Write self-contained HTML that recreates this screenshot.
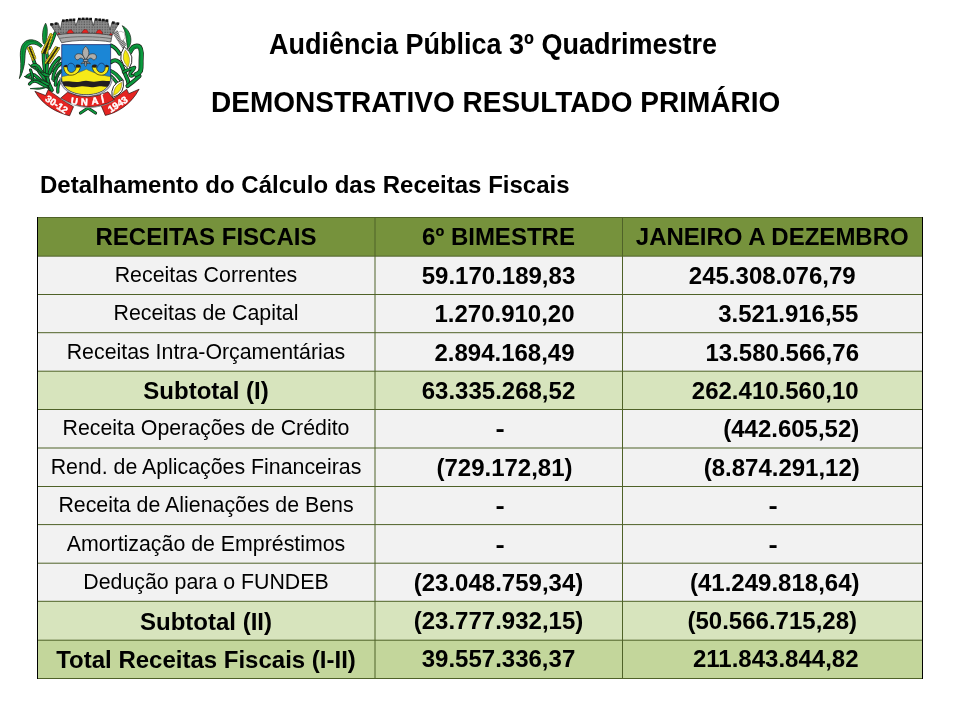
<!DOCTYPE html>
<html><head><meta charset="utf-8"><title>Demonstrativo Resultado Primário</title>
<style>
html,body{margin:0;padding:0;background:#fff;}
body{width:960px;height:720px;position:relative;overflow:hidden;-webkit-font-smoothing:antialiased;font-family:"Liberation Sans",Arial,sans-serif;color:#000;}
.a{position:absolute;white-space:nowrap;}
.tx{will-change:transform;}
.t1{font-weight:bold;}
.cell{position:absolute;white-space:nowrap;text-align:center;}
.lab{font-size:21.33px;}
.num{font-weight:bold;font-size:24px;}
.bl{font-weight:bold;font-size:24px;}
.hd{font-weight:bold;font-size:24px;}
</style></head><body>

<div class="a t1 tx" style="left:269px;top:28px;font-size:27px;transform:scaleY(1.075);transform-origin:0 0;">Audiência Pública 3º Quadrimestre</div>
<div class="a t1 tx" style="left:211px;top:86px;font-size:28px;transform:scaleY(1.04);transform-origin:0 0;">DEMONSTRATIVO RESULTADO PRIMÁRIO</div>
<div class="a t1 tx" style="left:40px;top:171px;font-size:24px;transform:scaleY(1.0);transform-origin:0 0;">Detalhamento do Cálculo das Receitas Fiscais</div>
<div class="a" style="left:37px;top:217px;width:885.5px;height:40px;background:#76923C"></div>
<div class="a" style="left:37px;top:256px;width:885.5px;height:38px;background:#F2F2F2"></div>
<div class="a" style="left:37px;top:294px;width:885.5px;height:39px;background:#F2F2F2"></div>
<div class="a" style="left:37px;top:333px;width:885.5px;height:38px;background:#F2F2F2"></div>
<div class="a" style="left:37px;top:371px;width:885.5px;height:39px;background:#D7E4BD"></div>
<div class="a" style="left:37px;top:410px;width:885.5px;height:38px;background:#F2F2F2"></div>
<div class="a" style="left:37px;top:448px;width:885.5px;height:38px;background:#F2F2F2"></div>
<div class="a" style="left:37px;top:486px;width:885.5px;height:39px;background:#F2F2F2"></div>
<div class="a" style="left:37px;top:525px;width:885.5px;height:38px;background:#F2F2F2"></div>
<div class="a" style="left:37px;top:563px;width:885.5px;height:38px;background:#F2F2F2"></div>
<div class="a" style="left:37px;top:601px;width:885.5px;height:39px;background:#D7E4BD"></div>
<div class="a" style="left:37px;top:640px;width:885.5px;height:38px;background:#C3D69B"></div>
<svg class="a" style="left:0;top:0" width="960" height="720" viewBox="0 0 960 720"><line x1="37" y1="294.50" x2="922" y2="294.50" stroke="#4F6228" stroke-width="1"/><line x1="37" y1="332.70" x2="922" y2="332.70" stroke="#4F6228" stroke-width="1"/><line x1="37" y1="371.20" x2="922" y2="371.20" stroke="#4F6228" stroke-width="1"/><line x1="37" y1="409.50" x2="922" y2="409.50" stroke="#4F6228" stroke-width="1"/><line x1="37" y1="448.00" x2="922" y2="448.00" stroke="#4F6228" stroke-width="1"/><line x1="37" y1="486.50" x2="922" y2="486.50" stroke="#4F6228" stroke-width="1"/><line x1="37" y1="524.60" x2="922" y2="524.60" stroke="#4F6228" stroke-width="1"/><line x1="37" y1="563.20" x2="922" y2="563.20" stroke="#4F6228" stroke-width="1"/><line x1="37" y1="601.30" x2="922" y2="601.30" stroke="#4F6228" stroke-width="1"/><line x1="37" y1="640.20" x2="922" y2="640.20" stroke="#4F6228" stroke-width="1"/><line x1="37" y1="678.50" x2="922" y2="678.50" stroke="#4F6228" stroke-width="1"/><line x1="37" y1="217.5" x2="923" y2="217.5" stroke="#4F6228" stroke-width="1"/><line x1="37" y1="256.2" x2="922" y2="256.2" stroke="#4F6228" stroke-width="1"/><line x1="375" y1="218" x2="375" y2="678.50" stroke="#4F6228" stroke-width="1"/><line x1="622.5" y1="218" x2="622.5" y2="678.50" stroke="#4F6228" stroke-width="1"/><line x1="37.5" y1="217" x2="37.5" y2="679.00" stroke="#000" stroke-width="1"/><line x1="922.5" y1="217" x2="922.5" y2="679.00" stroke="#000" stroke-width="1"/></svg>
<div class="cell tx hd" style="left:37px;top:217px;width:338px;height:39px;line-height:39px;padding-left:0px;">RECEITAS FISCAIS</div>
<div class="cell tx hd" style="left:375px;top:217px;width:247px;height:39px;line-height:39px;padding-left:0px;">6º BIMESTRE</div>
<div class="cell tx hd" style="left:622px;top:217px;width:300.5px;height:39px;line-height:39px;padding-left:0px;">JANEIRO A DEZEMBRO</div>
<div class="cell tx lab" style="left:37px;top:256.2px;width:338px;height:38.30000000000001px;line-height:38.30000000000001px;padding-left:0px;">Receitas Correntes</div>
<div class="cell tx num" style="left:375px;top:257.2px;width:247px;height:38.30000000000001px;line-height:38.30000000000001px;padding-left:0px;">59.170.189,83</div>
<div class="cell tx num" style="left:622px;top:257.2px;width:300.5px;height:38.30000000000001px;line-height:38.30000000000001px;padding-left:0px;">245.308.076,79</div>
<div class="cell tx lab" style="left:37px;top:294.0px;width:338px;height:38.19999999999999px;line-height:38.19999999999999px;padding-left:0px;">Receitas de Capital</div>
<div class="cell tx num" style="left:375px;top:295.0px;width:247px;height:38.19999999999999px;line-height:38.19999999999999px;padding-left:6px;">1.270.910,20</div>
<div class="cell tx num" style="left:622px;top:295.0px;width:300.5px;height:38.19999999999999px;line-height:38.19999999999999px;padding-left:16px;">3.521.916,55</div>
<div class="cell tx lab" style="left:37px;top:332.7px;width:338px;height:38.5px;line-height:38.5px;padding-left:0px;">Receitas Intra-Orçamentárias</div>
<div class="cell tx num" style="left:375px;top:333.7px;width:247px;height:38.5px;line-height:38.5px;padding-left:6px;">2.894.168,49</div>
<div class="cell tx num" style="left:622px;top:333.7px;width:300.5px;height:38.5px;line-height:38.5px;padding-left:10px;">13.580.566,76</div>
<div class="cell tx bl" style="left:37px;top:372.0px;width:338px;height:38.30000000000001px;line-height:38.30000000000001px;padding-left:0px;">Subtotal (I)</div>
<div class="cell tx num" style="left:375px;top:371.5px;width:247px;height:38.30000000000001px;line-height:38.30000000000001px;padding-left:0px;">63.335.268,52</div>
<div class="cell tx num" style="left:622px;top:371.5px;width:300.5px;height:38.30000000000001px;line-height:38.30000000000001px;padding-left:3px;">262.410.560,10</div>
<div class="cell tx lab" style="left:37px;top:408.5px;width:338px;height:38.5px;line-height:38.5px;padding-left:0px;">Receita Operações de Crédito</div>
<div class="cell tx num" style="left:375px;top:409.5px;width:247px;height:38.5px;line-height:38.5px;padding-left:1px;"><span style="display:inline-block;transform:scaleX(1.15)">-</span></div>
<div class="cell tx num" style="left:622px;top:409.5px;width:300.5px;height:38.5px;line-height:38.5px;padding-left:19px;">(442.605,52)</div>
<div class="cell tx lab" style="left:37px;top:448.0px;width:338px;height:38.5px;line-height:38.5px;padding-left:0px;">Rend. de Aplicações Financeiras</div>
<div class="cell tx num" style="left:375px;top:449.0px;width:247px;height:38.5px;line-height:38.5px;padding-left:6px;">(729.172,81)</div>
<div class="cell tx num" style="left:622px;top:449.0px;width:300.5px;height:38.5px;line-height:38.5px;padding-left:9.5px;">(8.874.291,12)</div>
<div class="cell tx lab" style="left:37px;top:485.5px;width:338px;height:38.10000000000002px;line-height:38.10000000000002px;padding-left:0px;">Receita de Alienações de Bens</div>
<div class="cell tx num" style="left:375px;top:486.5px;width:247px;height:38.10000000000002px;line-height:38.10000000000002px;padding-left:1px;"><span style="display:inline-block;transform:scaleX(1.15)">-</span></div>
<div class="cell tx num" style="left:622px;top:486.5px;width:300.5px;height:38.10000000000002px;line-height:38.10000000000002px;padding-left:0.5px;"><span style="display:inline-block;transform:scaleX(1.15)">-</span></div>
<div class="cell tx lab" style="left:37px;top:524.6px;width:338px;height:38.60000000000002px;line-height:38.60000000000002px;padding-left:0px;">Amortização de Empréstimos</div>
<div class="cell tx num" style="left:375px;top:525.6px;width:247px;height:38.60000000000002px;line-height:38.60000000000002px;padding-left:1px;"><span style="display:inline-block;transform:scaleX(1.15)">-</span></div>
<div class="cell tx num" style="left:622px;top:525.6px;width:300.5px;height:38.60000000000002px;line-height:38.60000000000002px;padding-left:0.5px;"><span style="display:inline-block;transform:scaleX(1.15)">-</span></div>
<div class="cell tx lab" style="left:37px;top:563.2px;width:338px;height:38.09999999999991px;line-height:38.09999999999991px;padding-left:0px;">Dedução para o FUNDEB</div>
<div class="cell tx num" style="left:375px;top:564.2px;width:247px;height:38.09999999999991px;line-height:38.09999999999991px;padding-left:0px;">(23.048.759,34)</div>
<div class="cell tx num" style="left:622px;top:564.2px;width:300.5px;height:38.09999999999991px;line-height:38.09999999999991px;padding-left:2.5px;">(41.249.818,64)</div>
<div class="cell tx bl" style="left:37px;top:602.8px;width:338px;height:38.90000000000009px;line-height:38.90000000000009px;padding-left:0px;">Subtotal (II)</div>
<div class="cell tx num" style="left:375px;top:602.3px;width:247px;height:38.90000000000009px;line-height:38.90000000000009px;padding-left:0px;">(23.777.932,15)</div>
<div class="cell tx num" style="left:622px;top:602.3px;width:300.5px;height:38.90000000000009px;line-height:38.90000000000009px;padding-left:0px;">(50.566.715,28)</div>
<div class="cell tx bl" style="left:37px;top:640.9000000000001px;width:338px;height:38.299999999999955px;line-height:38.299999999999955px;padding-left:0px;">Total Receitas Fiscais (I-II)</div>
<div class="cell tx num" style="left:375px;top:640.4000000000001px;width:247px;height:38.299999999999955px;line-height:38.299999999999955px;padding-left:0px;">39.557.336,37</div>
<div class="cell tx num" style="left:622px;top:640.4000000000001px;width:300.5px;height:38.299999999999955px;line-height:38.299999999999955px;padding-left:3.5px;">211.843.844,82</div>
<svg class="a tx" style="left:0;top:0" width="160" height="130" viewBox="0 0 160 130">
<defs>
<pattern id="mas" width="2.6" height="2.6" patternUnits="userSpaceOnUse">
<rect width="2.6" height="2.6" fill="#8a8a8a"/><rect x="0.5" y="0.5" width="1.2" height="1.2" fill="#4e4e4e"/>
</pattern>
<pattern id="hat" width="1.6" height="1.6" patternUnits="userSpaceOnUse" patternTransform="rotate(-35)">
<rect width="1.6" height="1.6" fill="#c4c4c4"/><rect width="1.6" height="0.75" fill="#555"/>
</pattern>
<clipPath id="shc"><path d="M61.7,44.6 H110.6 V78 C110.6,89 99.5,94.7 86.15,94.7 C72.8,94.7 61.7,89 61.7,78 Z"/></clipPath>
</defs>
<path d="M111,62 C115,59 119,60.5 121.5,65 C123.5,69 124.5,73 126,76 C127.5,79 128.5,81 128.5,84" fill="none" stroke="#1a2218" stroke-width="4.10" stroke-linecap="round" stroke-linejoin="round"/><path d="M111,62 C115,59 119,60.5 121.5,65 C123.5,69 124.5,73 126,76 C127.5,79 128.5,81 128.5,84" fill="none" stroke="#0b9a3e" stroke-width="2.60" stroke-linecap="round" stroke-linejoin="round"/>
<path d="M110.8,71 C114,72 118,76 121.5,80.5" fill="none" stroke="#1a2218" stroke-width="3.90" stroke-linecap="round" stroke-linejoin="round"/><path d="M110.8,71 C114,72 118,76 121.5,80.5" fill="none" stroke="#0b9a3e" stroke-width="2.40" stroke-linecap="round" stroke-linejoin="round"/>
<path d="M110.8,76 C113,78 115,80 117,83" fill="none" stroke="#1a2218" stroke-width="3.30" stroke-linecap="round" stroke-linejoin="round"/><path d="M110.8,76 C113,78 115,80 117,83" fill="none" stroke="#0b9a3e" stroke-width="1.80" stroke-linecap="round" stroke-linejoin="round"/>
<path d="M123.5,72 C127,70 131,68.5 134.5,67.5 C134,70 131.5,71 130,73.5 C129.5,75.5 131,76.5 132.5,75.5" fill="none" stroke="#1a2218" stroke-width="3.50" stroke-linecap="round" stroke-linejoin="round"/><path d="M123.5,72 C127,70 131,68.5 134.5,67.5 C134,70 131.5,71 130,73.5 C129.5,75.5 131,76.5 132.5,75.5" fill="none" stroke="#0b9a3e" stroke-width="2.00" stroke-linecap="round" stroke-linejoin="round"/>
<path d="M127.5,86 C131,83.5 135.5,80 139.5,76" fill="none" stroke="#1a2218" stroke-width="4.10" stroke-linecap="round" stroke-linejoin="round"/><path d="M127.5,86 C131,83.5 135.5,80 139.5,76" fill="none" stroke="#0b9a3e" stroke-width="2.60" stroke-linecap="round" stroke-linejoin="round"/>
<path d="M130,52 C132,47.5 135,45.6 138.3,46.2 C141.2,47.2 141.6,52.5 141.2,58 C140.8,63 141.6,67.5 140.5,71 C139.5,73 137.5,74 136,74.5" fill="none" stroke="#1a2218" stroke-width="5.00" stroke-linecap="round" stroke-linejoin="round"/><path d="M130,52 C132,47.5 135,45.6 138.3,46.2 C141.2,47.2 141.6,52.5 141.2,58 C140.8,63 141.6,67.5 140.5,71 C139.5,73 137.5,74 136,74.5" fill="none" stroke="#0b9a3e" stroke-width="3.60" stroke-linecap="round" stroke-linejoin="round"/>
<path d="M131,50.5 C133,47.5 135.5,46.6 138,47.2 C140.2,48.2 140.4,53 140,58 C139.7,63 140.4,67 139.5,70.5" fill="none" stroke="#07702c" stroke-width="0.9"/>
<path d="M111.2,45.5 C114.5,47 117.5,50 119.6,53.8" fill="none" stroke="#1a2218" stroke-width="3.90" stroke-linecap="round" stroke-linejoin="round"/><path d="M111.2,45.5 C114.5,47 117.5,50 119.6,53.8" fill="none" stroke="#0b9a3e" stroke-width="2.40" stroke-linecap="round" stroke-linejoin="round"/>
<path d="M122.2,25.7 C127,28 130.6,33 130.9,39.5 C131.1,43.5 129.8,46.6 127.6,49 C127,45 126.6,40.5 125.8,36 C125.1,31.5 124,28.5 122.2,25.7 Z" fill="#0b9a3e" stroke="#1a2218" stroke-width="0.7"/>
<path d="M123.5,28 C127,32 129,38 127.5,47" fill="none" stroke="#07702c" stroke-width="0.6"/>
<path d="M113.2,33.6 L117.2,30.6 L126.2,44.8 L122.8,48.2 Z" fill="url(#hat)" stroke="#555" stroke-width="0.5"/>
<path d="M118.3,32.8 C119.5,30.8 122,30.9 122.8,32.3 C124.2,32 125.3,33.6 124.6,35 C125.6,36.2 125.2,38.5 123.8,39.2 C123.8,40.6 121.6,41 120.8,39.6 Z" fill="#fff" stroke="#8c8c8c" stroke-width="0.55"/>
<path d="M124.20,46.80 Q115.24,60.31 128.80,69.20 Q137.18,55.81 124.20,46.80 Z" fill="#fff" stroke="#2a2a2a" stroke-width="1.0"/>
<path d="M125.30,49.80 Q120.09,59.48 128.10,67.00 Q131.93,57.55 125.30,49.80 Z" fill="#f5ea10" stroke="#5a5010" stroke-width="0.45"/>
<path d="M126.6,51 C127.3,56 127.6,61 127.1,66" fill="none" stroke="#d8c818" stroke-width="0.5"/>
<path d="M123.00,79.80 Q109.65,83.88 112.20,97.60 Q126.06,93.84 123.00,79.80 Z" fill="#fff" stroke="#2a2a2a" stroke-width="1.0"/>
<path d="M121.70,82.20 Q113.44,86.21 113.50,95.40 Q122.61,91.91 121.70,82.20 Z" fill="#f5ea10" stroke="#5a5010" stroke-width="0.45"/>
<path d="M42.5,45.8 C38.5,40.2 30.5,38.2 25.6,41.3 C21,44.3 19.9,51 20.5,58 C21.1,66 21,72 19.4,78.6 C22.8,72.5 24.6,65.5 24.9,58.2 C25.1,52 25.6,47.6 28.6,45.4 C32.2,43 37.2,44 40.6,47.6 Z" fill="#0b9a3e" stroke="#1a2218" stroke-width="0.8"/>
<path d="M41.5,46.5 C37.5,41.6 30.5,40.2 27,42.6 C23,45.3 22.4,51 22.7,58 C23,65 22.6,71 20.6,76.5" fill="none" stroke="#07702c" stroke-width="0.9"/>
<path d="M33.5,60 C35,66 39,72 44,78 C46.5,81 48.5,85 50,89" fill="none" stroke="#1a2218" stroke-width="3.70" stroke-linecap="round" stroke-linejoin="round"/><path d="M33.5,60 C35,66 39,72 44,78 C46.5,81 48.5,85 50,89" fill="none" stroke="#0b9a3e" stroke-width="2.20" stroke-linecap="round" stroke-linejoin="round"/>
<path d="M43.5,53 C43.5,62 44.5,72 47.5,80 C49,84 50.5,87 52,90" fill="none" stroke="#1a2218" stroke-width="3.70" stroke-linecap="round" stroke-linejoin="round"/><path d="M43.5,53 C43.5,62 44.5,72 47.5,80 C49,84 50.5,87 52,90" fill="none" stroke="#0b9a3e" stroke-width="2.20" stroke-linecap="round" stroke-linejoin="round"/>
<path d="M47.5,62 C46.5,68 46.5,75 48.5,82" fill="none" stroke="#1a2218" stroke-width="3.50" stroke-linecap="round" stroke-linejoin="round"/><path d="M47.5,62 C46.5,68 46.5,75 48.5,82" fill="none" stroke="#0b9a3e" stroke-width="2.00" stroke-linecap="round" stroke-linejoin="round"/>
<path d="M59,58 C54.5,62 51,67 49.5,73" fill="none" stroke="#1a2218" stroke-width="3.70" stroke-linecap="round" stroke-linejoin="round"/><path d="M59,58 C54.5,62 51,67 49.5,73" fill="none" stroke="#0b9a3e" stroke-width="2.20" stroke-linecap="round" stroke-linejoin="round"/>
<path d="M61,63.5 C56,67 53.5,72 53,79" fill="none" stroke="#1a2218" stroke-width="3.50" stroke-linecap="round" stroke-linejoin="round"/><path d="M61,63.5 C56,67 53.5,72 53,79" fill="none" stroke="#0b9a3e" stroke-width="2.00" stroke-linecap="round" stroke-linejoin="round"/>
<path d="M61,71 C57.5,74 55.5,79 55.5,85" fill="none" stroke="#1a2218" stroke-width="3.50" stroke-linecap="round" stroke-linejoin="round"/><path d="M61,71 C57.5,74 55.5,79 55.5,85" fill="none" stroke="#0b9a3e" stroke-width="2.00" stroke-linecap="round" stroke-linejoin="round"/>
<path d="M61,80 C58.5,83 57.5,87 57.8,92" fill="none" stroke="#1a2218" stroke-width="3.30" stroke-linecap="round" stroke-linejoin="round"/><path d="M61,80 C58.5,83 57.5,87 57.8,92" fill="none" stroke="#0b9a3e" stroke-width="1.80" stroke-linecap="round" stroke-linejoin="round"/>
<path d="M32,66 C35,63.5 38.5,65.5 40,69 C41.5,72.5 44.5,75 48,75.5" fill="none" stroke="#1a2218" stroke-width="3.50" stroke-linecap="round" stroke-linejoin="round"/><path d="M32,66 C35,63.5 38.5,65.5 40,69 C41.5,72.5 44.5,75 48,75.5" fill="none" stroke="#0b9a3e" stroke-width="2.00" stroke-linecap="round" stroke-linejoin="round"/>
<path d="M27,76.5 C30,73.5 34,74 37,77 C40,80 44,83 48,84.5" fill="none" stroke="#1a2218" stroke-width="3.50" stroke-linecap="round" stroke-linejoin="round"/><path d="M27,76.5 C30,73.5 34,74 37,77 C40,80 44,83 48,84.5" fill="none" stroke="#0b9a3e" stroke-width="2.00" stroke-linecap="round" stroke-linejoin="round"/>
<path d="M29.5,84 C32,81 35,80.5 38,82 C41,83.5 44,86 47.5,87" fill="none" stroke="#1a2218" stroke-width="3.30" stroke-linecap="round" stroke-linejoin="round"/><path d="M29.5,84 C32,81 35,80.5 38,82 C41,83.5 44,86 47.5,87" fill="none" stroke="#0b9a3e" stroke-width="1.80" stroke-linecap="round" stroke-linejoin="round"/>
<path d="M30.5,70 C32,73 33,76 32.5,80" fill="none" stroke="#1a2218" stroke-width="3.10" stroke-linecap="round" stroke-linejoin="round"/><path d="M30.5,70 C32,73 33,76 32.5,80" fill="none" stroke="#0b9a3e" stroke-width="1.60" stroke-linecap="round" stroke-linejoin="round"/>
<path d="M55.2,33 C53.5,38 51.5,43 49,48" fill="none" stroke="#1a2218" stroke-width="3.50" stroke-linecap="round" stroke-linejoin="round"/><path d="M55.2,33 C53.5,38 51.5,43 49,48" fill="none" stroke="#0b9a3e" stroke-width="2.00" stroke-linecap="round" stroke-linejoin="round"/>
<path d="M46,46 C46.5,50 47,54 47.5,58" fill="none" stroke="#1a2218" stroke-width="3.10" stroke-linecap="round" stroke-linejoin="round"/><path d="M46,46 C46.5,50 47,54 47.5,58" fill="none" stroke="#0b9a3e" stroke-width="1.60" stroke-linecap="round" stroke-linejoin="round"/>
<path d="M46.50,80.50 Q35.24,79.04 24.20,76.40 Q34.66,82.19 46.50,80.50 Z" fill="#0b9a3e" stroke="#1a2218" stroke-width="0.7"/><path d="M46.50,80.50 Q35.02,80.22 24.20,76.40" fill="none" stroke="#07702c" stroke-width="0.40"/>
<path d="M48.50,87.00 Q39.37,88.00 30.20,88.60 Q39.61,90.79 48.50,87.00 Z" fill="#0b9a3e" stroke="#1a2218" stroke-width="0.7"/><path d="M48.50,87.00 Q39.46,89.05 30.20,88.60" fill="none" stroke="#07702c" stroke-width="0.40"/>
<path d="M44.00,73.00 Q36.05,69.03 28.60,64.20 Q34.76,71.29 44.00,73.00 Z" fill="#0b9a3e" stroke="#1a2218" stroke-width="0.7"/><path d="M44.00,73.00 Q35.57,69.88 28.60,64.20" fill="none" stroke="#07702c" stroke-width="0.40"/>
<path d="M49.50,75.00 Q57.13,67.59 61.30,57.80 Q54.99,66.12 49.50,75.00 Z" fill="#0b9a3e" stroke="#1a2218" stroke-width="0.7"/><path d="M49.50,75.00 Q56.33,67.04 61.30,57.80" fill="none" stroke="#07702c" stroke-width="0.40"/>
<path d="M53.00,82.00 Q58.64,76.91 61.30,69.80 Q56.65,75.56 53.00,82.00 Z" fill="#0b9a3e" stroke="#1a2218" stroke-width="0.7"/><path d="M53.00,82.00 Q57.89,76.41 61.30,69.80" fill="none" stroke="#07702c" stroke-width="0.40"/>
<path d="M45.6,23.2 C47.8,27 48,34 45.5,43.5 C44.5,44.5 43.5,44 43.2,43 C41.8,36 42.5,28.5 45.6,23.2 Z" fill="#0b9a3e" stroke="#1a2218" stroke-width="0.7"/>
<path d="M45.4,25 C45.8,31 45.5,37 44.2,42.5" fill="none" stroke="#07702c" stroke-width="0.6"/>
<path d="M50.80,34.00 L42.00,52.40 L46.60,53.00 L52.20,35.20 Z" fill="#24220e" stroke="#24220e" stroke-width="2.1" stroke-linejoin="round"/><circle cx="50.80" cy="34.00" r="0.92" fill="#d8c41e"/><circle cx="50.12" cy="35.42" r="0.92" fill="#d8c41e"/><circle cx="49.45" cy="36.83" r="0.92" fill="#d8c41e"/><circle cx="48.77" cy="38.25" r="0.92" fill="#d8c41e"/><circle cx="48.09" cy="39.66" r="0.92" fill="#d8c41e"/><circle cx="47.42" cy="41.08" r="0.92" fill="#d8c41e"/><circle cx="46.74" cy="42.49" r="0.92" fill="#d8c41e"/><circle cx="46.06" cy="43.91" r="0.92" fill="#d8c41e"/><circle cx="45.38" cy="45.32" r="0.92" fill="#d8c41e"/><circle cx="44.71" cy="46.74" r="0.92" fill="#d8c41e"/><circle cx="44.03" cy="48.15" r="0.92" fill="#d8c41e"/><circle cx="43.35" cy="49.57" r="0.92" fill="#d8c41e"/><circle cx="42.68" cy="50.98" r="0.92" fill="#d8c41e"/><circle cx="42.00" cy="52.40" r="0.92" fill="#d8c41e"/><circle cx="52.20" cy="35.20" r="0.92" fill="#d8c41e"/><circle cx="51.73" cy="36.68" r="0.92" fill="#d8c41e"/><circle cx="51.27" cy="38.17" r="0.92" fill="#d8c41e"/><circle cx="50.80" cy="39.65" r="0.92" fill="#d8c41e"/><circle cx="50.33" cy="41.13" r="0.92" fill="#d8c41e"/><circle cx="49.87" cy="42.62" r="0.92" fill="#d8c41e"/><circle cx="49.40" cy="44.10" r="0.92" fill="#d8c41e"/><circle cx="48.93" cy="45.58" r="0.92" fill="#d8c41e"/><circle cx="48.47" cy="47.07" r="0.92" fill="#d8c41e"/><circle cx="48.00" cy="48.55" r="0.92" fill="#d8c41e"/><circle cx="47.53" cy="50.03" r="0.92" fill="#d8c41e"/><circle cx="47.07" cy="51.52" r="0.92" fill="#d8c41e"/><circle cx="46.60" cy="53.00" r="0.92" fill="#d8c41e"/>
<path d="M28.00,48.00 L33.00,59.80 L35.20,58.00 L31.00,47.00 Z" fill="#24220e" stroke="#24220e" stroke-width="2.1" stroke-linejoin="round"/><circle cx="28.00" cy="48.00" r="0.92" fill="#d8c41e"/><circle cx="28.62" cy="49.48" r="0.92" fill="#d8c41e"/><circle cx="29.25" cy="50.95" r="0.92" fill="#d8c41e"/><circle cx="29.88" cy="52.42" r="0.92" fill="#d8c41e"/><circle cx="30.50" cy="53.90" r="0.92" fill="#d8c41e"/><circle cx="31.12" cy="55.38" r="0.92" fill="#d8c41e"/><circle cx="31.75" cy="56.85" r="0.92" fill="#d8c41e"/><circle cx="32.38" cy="58.32" r="0.92" fill="#d8c41e"/><circle cx="33.00" cy="59.80" r="0.92" fill="#d8c41e"/><circle cx="31.00" cy="47.00" r="0.92" fill="#d8c41e"/><circle cx="31.60" cy="48.57" r="0.92" fill="#d8c41e"/><circle cx="32.20" cy="50.14" r="0.92" fill="#d8c41e"/><circle cx="32.80" cy="51.71" r="0.92" fill="#d8c41e"/><circle cx="33.40" cy="53.29" r="0.92" fill="#d8c41e"/><circle cx="34.00" cy="54.86" r="0.92" fill="#d8c41e"/><circle cx="34.60" cy="56.43" r="0.92" fill="#d8c41e"/><circle cx="35.20" cy="58.00" r="0.92" fill="#d8c41e"/>
<path d="M55.80,47.40 L45.60,62.80 L49.60,62.60 L59.00,48.20 Z" fill="#24220e" stroke="#24220e" stroke-width="2.1" stroke-linejoin="round"/><circle cx="55.80" cy="47.40" r="0.92" fill="#d8c41e"/><circle cx="54.95" cy="48.68" r="0.92" fill="#d8c41e"/><circle cx="54.10" cy="49.97" r="0.92" fill="#d8c41e"/><circle cx="53.25" cy="51.25" r="0.92" fill="#d8c41e"/><circle cx="52.40" cy="52.53" r="0.92" fill="#d8c41e"/><circle cx="51.55" cy="53.82" r="0.92" fill="#d8c41e"/><circle cx="50.70" cy="55.10" r="0.92" fill="#d8c41e"/><circle cx="49.85" cy="56.38" r="0.92" fill="#d8c41e"/><circle cx="49.00" cy="57.67" r="0.92" fill="#d8c41e"/><circle cx="48.15" cy="58.95" r="0.92" fill="#d8c41e"/><circle cx="47.30" cy="60.23" r="0.92" fill="#d8c41e"/><circle cx="46.45" cy="61.52" r="0.92" fill="#d8c41e"/><circle cx="45.60" cy="62.80" r="0.92" fill="#d8c41e"/><circle cx="59.00" cy="48.20" r="0.92" fill="#d8c41e"/><circle cx="58.15" cy="49.51" r="0.92" fill="#d8c41e"/><circle cx="57.29" cy="50.82" r="0.92" fill="#d8c41e"/><circle cx="56.44" cy="52.13" r="0.92" fill="#d8c41e"/><circle cx="55.58" cy="53.44" r="0.92" fill="#d8c41e"/><circle cx="54.73" cy="54.75" r="0.92" fill="#d8c41e"/><circle cx="53.87" cy="56.05" r="0.92" fill="#d8c41e"/><circle cx="53.02" cy="57.36" r="0.92" fill="#d8c41e"/><circle cx="52.16" cy="58.67" r="0.92" fill="#d8c41e"/><circle cx="51.31" cy="59.98" r="0.92" fill="#d8c41e"/><circle cx="50.45" cy="61.29" r="0.92" fill="#d8c41e"/><circle cx="49.60" cy="62.60" r="0.92" fill="#d8c41e"/>
<path d="M50.4,24.4 L58.3,23.2 L60.4,29.8 L62.1,20.7 L74.2,19.8 L75.8,25.7 L78.3,19 L91.3,19 L93.3,25.7 L95,19.4 L107.5,20.7 L110,29.8 L112,22.3 L118.8,23.6 L111.7,35.8 L57.5,35 Z" fill="url(#mas)" stroke="#333" stroke-width="0.7" stroke-linejoin="round"/>
<g fill="#141414"><rect x="50.2" y="23.2" width="2.7" height="2.5" transform="rotate(-8 51.2 24.2)"/><rect x="54.8" y="22.4" width="2.7" height="2.5" transform="rotate(-8 55.8 23.4)"/><rect x="62.0" y="19.4" width="2.7" height="2.5" transform="rotate(0 63.0 20.4)"/><rect x="65.6" y="19.0" width="2.7" height="2.5" transform="rotate(0 66.6 20.0)"/><rect x="69.2" y="18.7" width="2.7" height="2.5" transform="rotate(0 70.2 19.7)"/><rect x="72.6" y="18.5" width="2.7" height="2.5" transform="rotate(0 73.6 19.5)"/><rect x="78.0" y="17.8" width="2.7" height="2.5" transform="rotate(0 79.0 18.8)"/><rect x="81.8" y="17.6" width="2.7" height="2.5" transform="rotate(0 82.8 18.6)"/><rect x="85.6" y="17.6" width="2.7" height="2.5" transform="rotate(0 86.6 18.6)"/><rect x="89.3" y="17.8" width="2.7" height="2.5" transform="rotate(0 90.3 18.8)"/><rect x="94.8" y="18.2" width="2.7" height="2.5" transform="rotate(0 95.8 19.2)"/><rect x="98.4" y="18.5" width="2.7" height="2.5" transform="rotate(0 99.4 19.5)"/><rect x="102.0" y="18.8" width="2.7" height="2.5" transform="rotate(0 103.0 19.8)"/><rect x="105.6" y="19.3" width="2.7" height="2.5" transform="rotate(0 106.6 20.3)"/><rect x="112.0" y="21.3" width="2.7" height="2.5" transform="rotate(8 113.0 22.3)"/><rect x="116.5" y="22.3" width="2.7" height="2.5" transform="rotate(8 117.5 23.3)"/></g>
<g fill="#e8231f" stroke="#5a1010" stroke-width="0.4">
<path d="M66.8,34.4 C67.2,31.2 68.8,29.7 70.3,29.7 C71.8,29.7 73.4,31.2 73.7,34.4 Z"/>
<path d="M81.6,34.3 C82,31 83.6,29.5 85.2,29.5 C86.8,29.5 88.4,31 88.7,34.3 Z"/>
<path d="M95.8,34.4 C96.2,31.3 97.8,29.8 99.3,29.8 C100.8,29.8 102.4,31.3 102.7,34.4 Z"/>
<path d="M57.2,34.7 C58,33 59.6,32.6 60.8,34.9 Z"/>
<path d="M109.2,35 C110.2,33 111.7,32.8 112.3,35.2 Z"/>
</g>
<path d="M57.3,34.8 C70,32.4 100,32.6 112,35.6 L110.8,42 C98,39.6 74,39.6 61.7,42.8 Z" fill="#ababab" stroke="#333" stroke-width="0.7" stroke-linejoin="round"/>
<path d="M59.4,38.4 C72,36 98,36.2 111.4,38.6" fill="none" stroke="#6c6c6c" stroke-width="1"/>
<path d="M60,77 C60,90 72.5,96.3 86.15,96.3 C99.8,96.3 112.3,90 112.3,77" fill="none" stroke="#8c8c9c" stroke-width="1.1"/>
<path d="M61.7,44.6 H110.6 V78 C110.6,89 99.5,94.7 86.15,94.7 C72.8,94.7 61.7,89 61.7,78 Z" fill="#1b86d6"/>
<g clip-path="url(#shc)">
<path d="M60,76.9 C70,75.4 80,72.5 86.3,69.2 C92.5,72.5 102,75.4 112,76.9 V96 H60 Z" fill="#f6ea18" stroke="#6b6420" stroke-width="0.5"/>
<path d="M60,82 C63,81 66,81 69,81.3 C72,81.6 75,82.3 78,82 C81,81.7 83,80.8 86,80.8 C89,80.8 91,81.8 94,81.7 C97,81.6 99,80.8 102,80.8 C105,80.8 108,81.3 112,81.2 L112,86.6 C108,86.9 106,86.8 103,86.4 C100,86 98,86.4 95,86.9 C92,87.4 90,87.2 88,86.8 C85,86.2 83,86 80,86.4 C77,86.9 75,87.4 72,87.2 C69,87 66,86 63,86.1 C61.5,86.1 60.5,86.4 60,86.6 Z" fill="#231f20"/>
</g>
<path d="M61.7,44.6 H110.6 V78 C110.6,89 99.5,94.7 86.15,94.7 C72.8,94.7 61.7,89 61.7,78 Z" fill="none" stroke="#1d1d5e" stroke-width="0.7"/>
<g fill="#b0aeab" stroke="#2e2622" stroke-width="0.6" stroke-linejoin="round">
<path d="M84.5,58.4 C83.7,55.6 81.7,53.7 78.7,53.7 C76.1,53.7 74.7,55.3 75,57.2 C75.3,59 76.6,60 77.9,59.8 C78.9,59.6 79.3,58.6 79.9,58.2 C81.1,57.6 82.7,58.4 83.7,59.8 Z"/>
<path d="M86.9,58.4 C87.7,55.6 89.7,53.7 92.7,53.7 C95.3,53.7 96.7,55.3 96.4,57.2 C96.1,59 94.8,60 93.5,59.8 C92.5,59.6 92.1,58.6 91.5,58.2 C90.3,57.6 88.7,58.4 87.7,59.8 Z"/>
<path d="M85.7,46.3 C88.5,48.5 89.3,52 88.7,54.5 C88.2,56.5 86.9,58 85.7,59.3 C84.5,58 83.2,56.5 82.7,54.5 C82.1,52 82.9,48.5 85.7,46.3 Z"/>
<path d="M84.7,62 C83.1,61.7 81.6,62.3 81,63.8 C82.3,63.3 83.5,63.2 84.7,63.6 Z"/>
<path d="M86.7,62 C88.3,61.7 89.8,62.3 90.4,63.8 C89.1,63.3 87.9,63.2 86.7,63.6 Z"/>
<path d="M84.8,61.4 L84.9,65.6 C85.2,66.5 86.2,66.5 86.5,65.6 L86.6,61.4 Z"/>
<rect x="83.6" y="59.6" width="4.2" height="2" rx="0.4"/>
</g>
<g id="horn">
<path d="M67.2,67.8 C67.4,64.7 69.2,63.2 70.9,63.2 C72.8,63.2 74.6,64.7 75.3,67.8" fill="none" stroke="#12285a" stroke-width="0.7"/>
<path d="M63.8,66 C63.6,71.2 66.4,75.2 71,75.2 C75.6,75.2 79.4,72.2 80.5,66.6 L76.1,67.3 C75.8,70.6 73.6,72.5 71.4,72.5 C69,72.5 67.4,70.6 67.3,67.2 Z" fill="#f6ea18" stroke="#2d2a08" stroke-width="0.7" stroke-linejoin="round"/>
<ellipse cx="65.6" cy="66" rx="1.7" ry="1.1" transform="rotate(-8 65.6 66)" fill="#2a1a10"/>
<ellipse cx="78.1" cy="66" rx="2.5" ry="1.5" transform="rotate(4 78.1 66)" fill="#2a1a10"/>
</g>
<use href="#horn" transform="matrix(-1,0,0,1,172.5,0)"/>
<path d="M80.5,113 L88,108 L95.5,113" fill="none" stroke="#1a2218" stroke-width="3.20" stroke-linecap="round" stroke-linejoin="round"/><path d="M80.5,113 L88,108 L95.5,113" fill="none" stroke="#0b9a3e" stroke-width="1.80" stroke-linecap="round" stroke-linejoin="round"/>
<g fill="#e52421" stroke="#2a1010" stroke-width="0.7" stroke-linejoin="round">
<path d="M34.9,91.3 L45.6,95.5 L48.2,89.7 C55,95 64,101.5 73.5,106.7 L69.6,115.8 C58,113 43,106 34.9,91.3 Z"/>
<path d="M101.3,105.9 L105.3,115.4 C116,113.2 131,105 139.1,89.2 L128.8,93.7 L126.7,89.2 Q118.2,96.25 101.3,105.9 Z"/>
<path d="M67.5,92.3 Q88,101.6 108,91.75 L114.3,99.9 Q88,114.8 60.7,98.1 Z"/>
</g>
<path d="M60.7,98.6 Q88,115.5 114.3,100.4" fill="none" stroke="#8a8a8a" stroke-width="0.9"/>
<g fill="#fff" stroke="#fff" stroke-width="0.45" font-family="Liberation Sans, Arial, sans-serif" font-weight="bold">
<text x="56.6" y="107.6" font-size="9.6" text-anchor="middle" transform="rotate(34 56.6 104.3)">30-12</text>
<text x="73.9 84.2 95.2 103.3" y="104.1 104.9 104.6 102.9" rotate="8 2 -5 -12" font-size="9.6" text-anchor="middle">UNAÍ</text>
<text x="117.8" y="107.6" font-size="9.6" text-anchor="middle" transform="rotate(-33 117.8 104.3)">1943</text>
</g>
</svg>
</body></html>
